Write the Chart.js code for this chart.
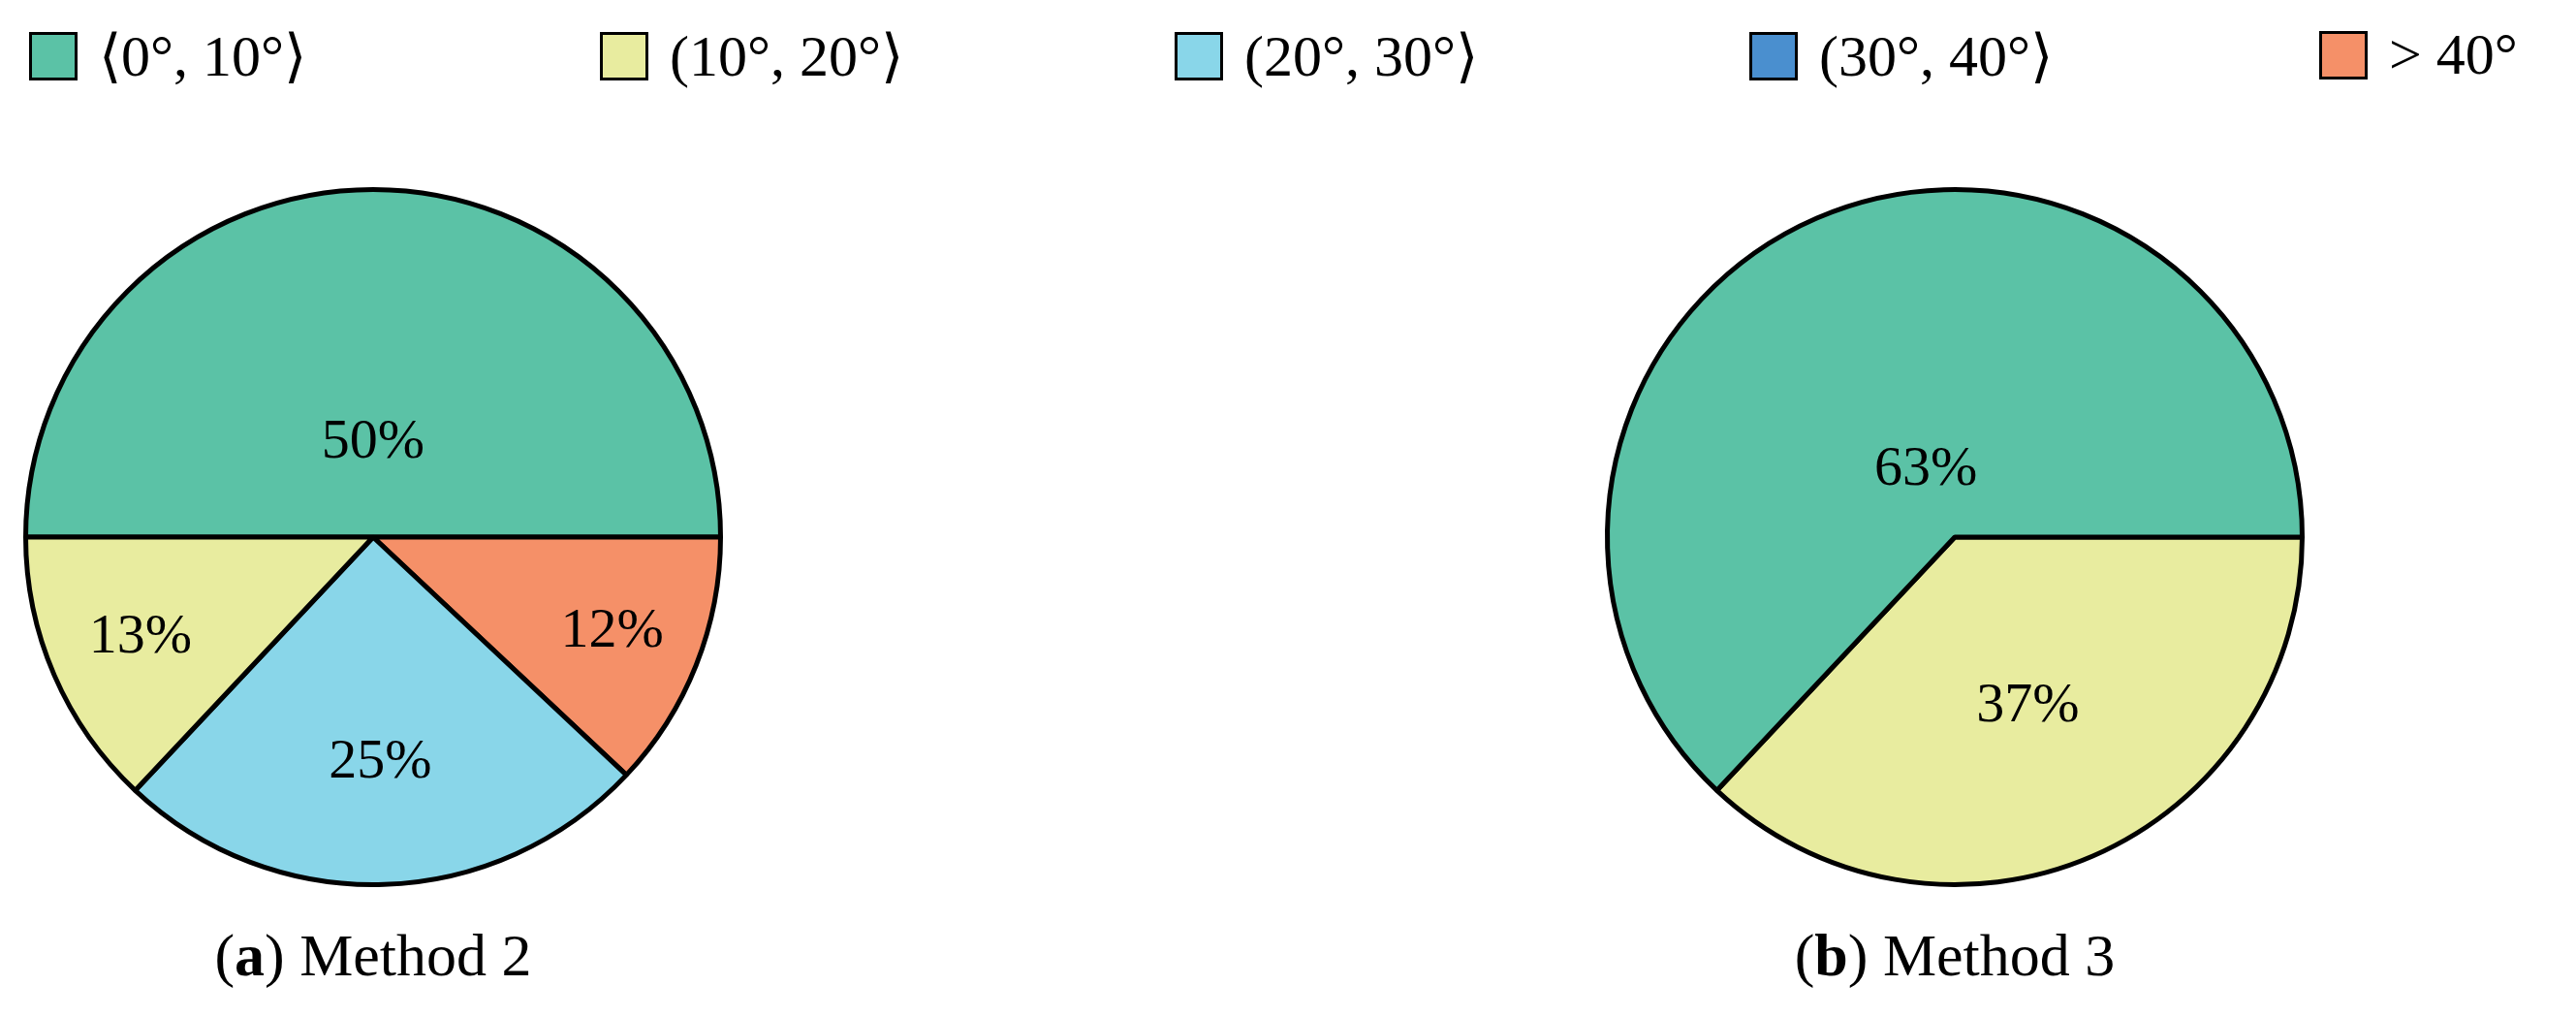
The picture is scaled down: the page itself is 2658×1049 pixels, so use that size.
<!DOCTYPE html>
<html><head><meta charset="utf-8">
<script src="https://cdn.jsdelivr.net/npm/chart.js@4"></script>
<style>
body{margin:0;width:2658px;height:1049px;background:#fff;position:relative;overflow:hidden;font-family:"Liberation Serif",serif;}
.leg{position:absolute;top:22px;display:flex;align-items:center;font-size:60px;color:#000;}
.leg span.b{display:inline-block;width:44px;height:44px;border:3px solid #000;margin-right:22px;}
.cap{position:absolute;top:950px;width:800px;text-align:center;font-size:62px;}
canvas{position:absolute;}
</style></head><body>
<div id="legend"></div>
<canvas id="c1" width="730" height="730" style="left:20px;top:189px"></canvas>
<canvas id="c2" width="730" height="730" style="left:1652px;top:189px"></canvas>
<div class="cap" style="left:-15px">(<b>a</b>) Method 2</div>
<div class="cap" style="left:1617px">(<b>b</b>) Method 3</div>
<script>
const categories = ["⟨0°, 10°⟩", "(10°, 20°⟩", "(20°, 30°⟩", "(30°, 40°⟩", "> 40°"];
const colors = ["#5bc2a6", "#e8ec9f", "#89d6e9", "#4a8fcf", "#f59068"];
const legendX = [30, 619, 1212, 1805, 2393];
// Method 2: clockwise from 9 o'clock
const m2Labels = ["⟨0°, 10°⟩", "> 40°", "(20°, 30°⟩", "(10°, 20°⟩"];
const m2Values = [50, 12, 25, 13];
const m2LabelRadius = [0.27, 0.74, 0.65, 0.73];
// Method 3: clockwise from 3 o'clock
const m3Labels = ["(10°, 20°⟩", "⟨0°, 10°⟩"];
const m3Values = [37, 63];
const m3LabelRadius = [0.53, 0.21];

const leg = document.getElementById('legend');
categories.forEach((c,i)=>{
  const d=document.createElement('div');d.className='leg';d.style.left=legendX[i]+'px';
  d.innerHTML='<span class="b" style="background:'+colors[i]+'"></span>'+c;
  leg.appendChild(d);
});
const colorOf = l => colors[categories.indexOf(l)];
const pctPlugin = {
  id:'pct',
  afterDatasetsDraw(chart){
    const ctx=chart.ctx, meta=chart.getDatasetMeta(0), ds=chart.data.datasets[0];
    const fr=chart.options.plugins.pct.radius;
    ctx.save();ctx.font='58px "Liberation Serif", serif';ctx.fillStyle='#000';
    ctx.textAlign='center';ctx.textBaseline='middle';
    meta.data.forEach((a,i)=>{
      const mid=(a.startAngle+a.endAngle)/2, r=a.outerRadius*fr[i];
      ctx.fillText(ds.data[i]+'%', a.x+Math.cos(mid)*r, a.y+Math.sin(mid)*r);
    });
    ctx.restore();
  }
};
function mk(id, labels, values, rot, fr){
  new Chart(document.getElementById(id),{
    type:'pie',
    data:{labels,datasets:[{data:values,backgroundColor:labels.map(colorOf),borderColor:'#000',borderWidth:5,borderAlign:'center'}]},
    options:{responsive:false,animation:false,devicePixelRatio:1,rotation:rot,
      layout:{padding:4},
      plugins:{legend:{display:false},tooltip:{enabled:false},pct:{radius:fr}}},
    plugins:[pctPlugin]
  });
}
mk('c1', m2Labels, m2Values, -90, m2LabelRadius);
mk('c2', m3Labels, m3Values, 90, m3LabelRadius);
</script></body></html>
